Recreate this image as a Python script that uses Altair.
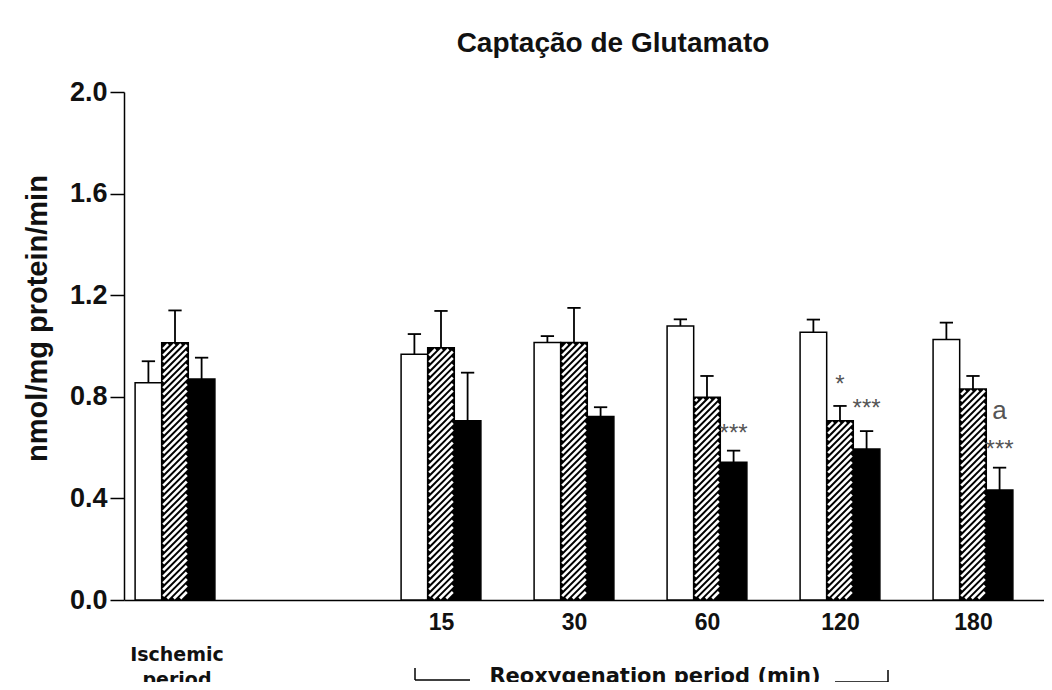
import altair as alt
import pandas as pd

# ---------------- data ----------------
groups = ["Ischemic period", "15", "30", "60", "120", "180"]
group_pos = [0, 2, 3, 4, 5, 6]
series = ["open", "hatched", "filled"]

open_mean = [0.855, 0.968, 1.014, 1.079, 1.054, 1.026]
open_err = [0.085, 0.079, 0.025, 0.026, 0.050, 0.066]
hatched_mean = [1.013, 0.993, 1.014, 0.798, 0.706, 0.831]
hatched_err = [0.127, 0.145, 0.136, 0.084, 0.058, 0.051]
filled_mean = [0.870, 0.706, 0.722, 0.542, 0.594, 0.433]
filled_err = [0.084, 0.189, 0.037, 0.046, 0.071, 0.088]

ann_group = ["60", "120", "120", "180", "180"]
ann_series = ["filled", "hatched", "filled", "filled", "filled"]
ann_y = [0.654, 0.846, 0.752, 0.744, 0.591]
ann_text = ["***", "*", "***", "a", "***"]

y_ticks = [0.0, 0.4, 0.8, 1.2, 1.6, 2.0]

# ---------------- layout constants ----------------
W, H = 920, 508
X_DOMAIN = [-0.3835, 6.534]
Y_DOMAIN = [0, 2.0]
BAR_W = 0.2
CAP = 0.05
FONT = "Liberation Sans"
FONT_W = "DejaVu Sans"

sx = W / (X_DOMAIN[1] - X_DOMAIN[0])
sy = H / (Y_DOMAIN[1] - Y_DOMAIN[0])

means = {"open": open_mean, "hatched": hatched_mean, "filled": filled_mean}
errs = {"open": open_err, "hatched": hatched_err, "filled": filled_err}

rows = []
for si, s in enumerate(series):
    for gi, g in enumerate(groups):
        c = group_pos[gi] + (si - 1) * BAR_W
        m = means[s][gi]
        e = errs[s][gi]
        rows.append(dict(group=g, series=s, center=c, x0=c - BAR_W / 2, x1=c + BAR_W / 2,
                         cl=c - CAP, cr=c + CAP, mean=m, top=m + e, zero=0.0))
bars = pd.DataFrame(rows)

# hatch segments for the hatched bars (45 degree lines clipped to each bar)
hatch = []
SP, INS = 6.5, 1.5
for r in rows:
    if r["series"] != "hatched":
        continue
    wpx = BAR_W * sx
    hpx = r["mean"] * sy
    u0, u1, v0, v1 = INS, wpx - INS, INS, hpx - INS
    c = v0 - u1
    while c < v1 - u0:
        ua = max(u0, v0 - c)
        ub = min(u1, v1 - c)
        if ub > ua:
            hatch.append(dict(xa=r["x0"] + ua / sx, xb=r["x0"] + ub / sx,
                              ya=(ua + c) / sy, yb=(ub + c) / sy))
        c += SP
hatch = pd.DataFrame(hatch)

anns = []
for g, s, yv, t in zip(ann_group, ann_series, ann_y, ann_text):
    gi = groups.index(g)
    si = series.index(s)
    anns.append(dict(x=group_pos[gi] + (si - 1) * BAR_W, y=yv, t=t))
anns = pd.DataFrame(anns)

label_expr = " : ".join(
    f"datum.value == {p} ? '{g}'" for p, g in zip(group_pos[1:], groups[1:])
) + " : ''"

xscale = alt.Scale(domain=X_DOMAIN, nice=False, zero=False)
yscale = alt.Scale(domain=Y_DOMAIN, nice=False)

x_axis = alt.Axis(values=group_pos[1:], labelExpr=label_expr, ticks=False, grid=False,
                  domainColor="black", domainWidth=1.5, labelFont=FONT, labelFontSize=23,
                  labelFontWeight="bold", labelColor="#111", labelPadding=11, title=None,
                  labelFlush=False, labelOverlap=False)
y_axis = alt.Axis(values=y_ticks, format=".1f", grid=False, tickSize=14, tickWidth=1.5,
                  tickColor="black", domainColor="black", domainWidth=1.5,
                  labelFont=FONT, labelFontSize=27, labelFontWeight="bold", labelColor="#111",
                  labelPadding=3, title="nmol/mg protein/min", titleFont=FONT,
                  titleFontSize=29, titleFontWeight="bold", titleColor="#111",
                  titleAngle=270, titleX=-87, titleY=226, titleAlign="center",
                  titleBaseline="middle")

base = alt.Chart(bars)

bar_layer = base.mark_rect(stroke="black", strokeWidth=1.5).encode(
    x=alt.X("x0:Q", scale=xscale, axis=x_axis),
    x2="x1:Q",
    y=alt.Y("mean:Q", scale=yscale, axis=y_axis),
    y2="zero:Q",
    fill=alt.Fill("series:N", scale=alt.Scale(domain=series, range=["white", "black", "black"]),
                  legend=None),
)

hatch_layer = alt.Chart(hatch).mark_rule(color="white", strokeWidth=2.6).encode(
    x="xa:Q", x2="xb:Q", y="ya:Q", y2="yb:Q"
)

err_line = base.mark_rule(color="black", strokeWidth=1.8).encode(
    x="center:Q", y="mean:Q", y2="top:Q"
)
err_cap = base.mark_rule(color="black", strokeWidth=1.8).encode(
    x="cl:Q", x2="cr:Q", y="top:Q"
)

ann_layer = alt.Chart(anns).mark_text(font=FONT, color="#555",
                                      baseline="middle", align="center").encode(
    x="x:Q", y="y:Q", text="t:N",
    size=alt.condition("datum.t == 'a'", alt.value(26), alt.value(24)),
)

one = pd.DataFrame({"t": ["Ischemic\nperiod"]})
isch = alt.Chart(one).mark_text(font=FONT_W, fontSize=19, fontWeight="bold", color="#111",
                                lineBreak="\n", lineHeight=25, baseline="middle",
                                align="center").encode(
    text="t:N", x=alt.value(53), y=alt.value(563)
)

reox_df = pd.DataFrame({"t": ["Reoxygenation period (min)"]})
reox = alt.Chart(reox_df).mark_text(font=FONT_W, fontSize=21, fontWeight="bold", color="#111",
                                    baseline="middle", align="center").encode(
    text="t:N", x=alt.value(531), y=alt.value(585)
)

def seg(x1, x2, y1, y2):
    return alt.Chart(reox_df).mark_rule(color="black", strokeWidth=1.5).encode(
        x=alt.value(x1), x2=alt.value(x2), y=alt.value(y1), y2=alt.value(y2))

brackets = [seg(291, 291, 576, 588), seg(291, 346, 588, 588),
            seg(711, 764, 590, 590), seg(764, 764, 578, 590)]

chart = alt.layer(bar_layer, hatch_layer, err_line, err_cap, ann_layer, isch, reox, *brackets).properties(
    width=W, height=H,
    title=alt.TitleParams("Captação de Glutamato", font=FONT, fontSize=28, fontWeight="bold",
                          color="#111", anchor="middle", frame="group", dx=29, offset=6,
                          baseline="middle"),
    autosize=alt.AutoSizeParams(type="none"),
    padding={"left": 116, "top": 84, "right": 0, "bottom": 82},
    view=alt.ViewBackground(strokeWidth=0, strokeOpacity=0),
).configure_view(strokeWidth=0, strokeOpacity=0).configure(background="white")

chart.save("out.html", embed_options={"renderer": "svg", "actions": False})
